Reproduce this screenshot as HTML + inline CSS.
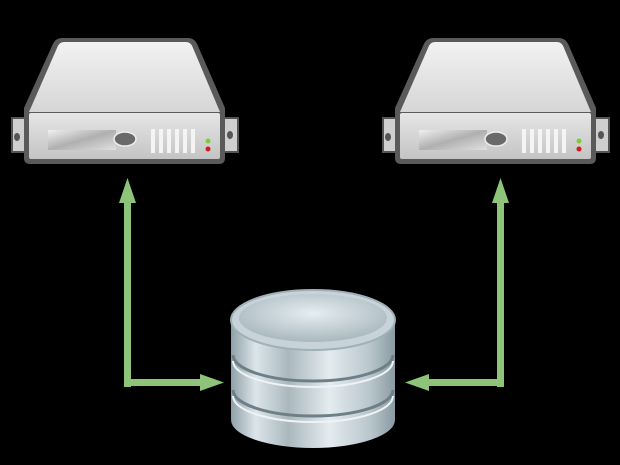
<!DOCTYPE html>
<html><head><style>html,body{margin:0;padding:0;background:#000;width:620px;height:465px;overflow:hidden}</style></head>
<body>
<svg width="620" height="465" viewBox="0 0 620 465" xmlns="http://www.w3.org/2000/svg">
<defs>
<linearGradient id="top" x1="0" y1="0" x2="0" y2="1"><stop offset="0" stop-color="#f2f2f2"/><stop offset="1" stop-color="#d6d6d6"/></linearGradient>
<linearGradient id="front" x1="0" y1="0" x2="0" y2="1"><stop offset="0" stop-color="#e6e6e6"/><stop offset="1" stop-color="#c4c4c4"/></linearGradient>
<linearGradient id="slot" x1="0" y1="0" x2="1" y2="1"><stop offset="0" stop-color="#f0f0f0"/><stop offset="0.5" stop-color="#b0b0b0"/><stop offset="1" stop-color="#e0e0e0"/></linearGradient>
<linearGradient id="cyl" x1="0" y1="0" x2="1" y2="0"><stop offset="0" stop-color="#8fa0a8"/><stop offset="0.15" stop-color="#dce6ea"/><stop offset="0.35" stop-color="#aab8be"/><stop offset="0.6" stop-color="#e4ecef"/><stop offset="0.85" stop-color="#b8c6cc"/><stop offset="1" stop-color="#8a9aa2"/></linearGradient>
<radialGradient id="cap" cx="0.5" cy="0.4" r="0.6"><stop offset="0" stop-color="#e6eef1"/><stop offset="1" stop-color="#a9b8bf"/></radialGradient>
<g id="srv">
  <rect x="12" y="118" width="16" height="34" fill="#cfcfcf" stroke="#555" stroke-width="2"/>
  <rect x="222" y="118" width="16" height="34" fill="#cfcfcf" stroke="#555" stroke-width="2"/>
  <ellipse cx="17" cy="137" rx="3" ry="4" fill="#555"/>
  <ellipse cx="230" cy="135" rx="3" ry="4" fill="#555"/>
  <path d="M62 38 H188 Q195 38 198 46 L225 108 V158 Q225 164 219 164 H30 Q24 164 24 158 V108 L52 46 Q55 38 62 38Z" fill="#5a5a5a"/>
  <path d="M64 42 H186 Q191 42 193 48 L220 112 H29 L57 48 Q59 42 64 42Z" fill="url(#top)"/>
  <rect x="29" y="113" width="191" height="46" rx="2" fill="url(#front)"/>
  <rect x="48" y="130" width="68" height="20" fill="url(#slot)"/>
  <ellipse cx="125" cy="139" rx="11" ry="7" fill="#6a6a6a" stroke="#eee" stroke-width="1.5"/>
  <g fill="#f4f4f4"><rect x="151" y="129" width="4" height="24"/><rect x="159" y="129" width="4" height="24"/><rect x="167" y="129" width="4" height="24"/><rect x="175" y="129" width="4" height="24"/><rect x="183" y="129" width="4" height="24"/><rect x="191" y="129" width="4" height="24"/></g>
  <circle cx="208" cy="141" r="2.5" fill="#7acc3a"/>
  <circle cx="208" cy="149" r="2.5" fill="#d21c1c"/>
</g>
</defs>
<use href="#srv"/>
<use href="#srv" x="371"/>
<g fill="#8dc47a">
  <rect x="124" y="200" width="7" height="187"/>
  <polygon points="127.5,178 119,203 136,203"/>
  <rect x="124" y="379" width="80" height="7"/>
  <polygon points="224,382.5 200,374 200,391"/>
  <rect x="497" y="200" width="7" height="187"/>
  <polygon points="500.5,178 492,203 509,203"/>
  <rect x="425" y="379" width="79" height="7"/>
  <polygon points="405,382.5 429,374 429,391"/>
</g>
<g>
  <path d="M231 322 V420 A82 28 0 0 0 395 420 V322Z" fill="url(#cyl)"/>
  <path d="M233 355 A80 26 0 0 0 393 355" fill="none" stroke="#6e7f87" stroke-width="3"/>
  <path d="M233 361 A80 26 0 0 0 393 361" fill="none" stroke="#eef3f5" stroke-width="2"/>
  <path d="M233 390 A80 26 0 0 0 393 390" fill="none" stroke="#6e7f87" stroke-width="3"/>
  <path d="M233 396 A80 26 0 0 0 393 396" fill="none" stroke="#eef3f5" stroke-width="2"/>
  <ellipse cx="313" cy="320" rx="82" ry="30" fill="#c7d3d8" stroke="#9fb0b7" stroke-width="2"/>
  <ellipse cx="313" cy="318" rx="74" ry="24" fill="url(#cap)"/>
</g>
</svg>
</body></html>
